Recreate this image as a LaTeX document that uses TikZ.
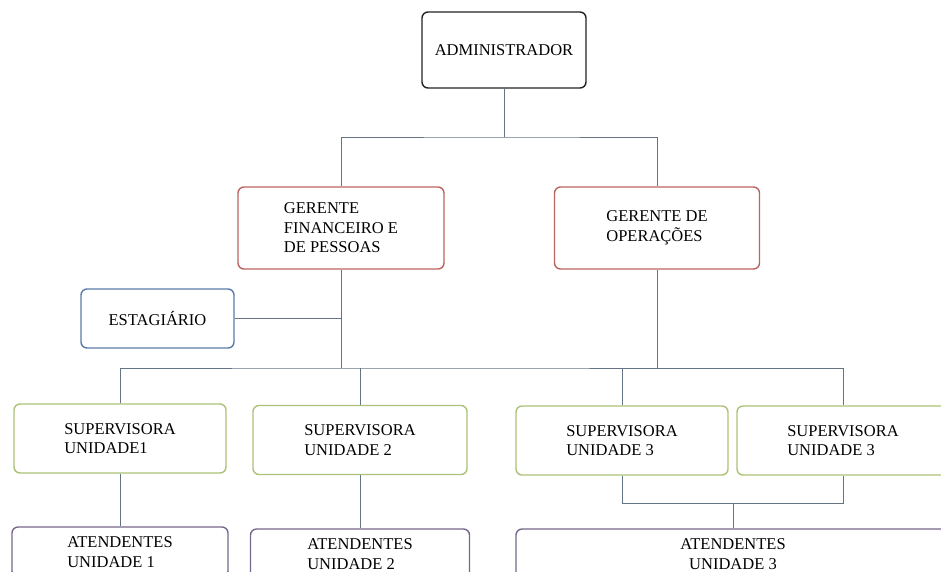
\documentclass[tikz,border=0pt]{standalone}
\usepackage{fontspec}
\setmainfont{Liberation Serif}
\definecolor{admcol}{RGB}{35,35,35}
\definecolor{gercol}{RGB}{188,100,96}
\definecolor{estcol}{RGB}{88,125,168}
\definecolor{supcol}{RGB}{172,194,118}
\definecolor{atecol}{RGB}{118,104,140}
\definecolor{concol}{RGB}{100,116,132}
\begin{document}
\begin{tikzpicture}[x=1pt, y=-1pt,
    box/.style={draw, rounded corners=6pt, line width=1.4pt, fill=white,
                font=\fontsize{16.5}{19.5}\selectfont, inner sep=0pt, align=left},
    conn/.style={draw=concol, line width=0.9pt}]
    \useasboundingbox (0,0) rectangle (941,571);
    \clip (0,0) rectangle (941,571);
    % top level
    \node[box, draw=admcol, minimum width=164, minimum height=76] (admin) at (504,50) {ADMINISTRADOR};
    \node[box, draw=gercol, minimum width=206, minimum height=82] (gf) at (341,228) {GERENTE\\FINANCEIRO E\\DE PESSOAS};
    \node[box, draw=gercol, minimum width=205, minimum height=82] (go) at (657,228) {GERENTE DE\\OPERA\c{C}\~{O}ES};
    \node[box, draw=estcol, minimum width=153, minimum height=59] (est) at (157.5,318.5) {ESTAGI\'{A}RIO};
    % supervisoras
    \node[box, draw=supcol, minimum width=212, minimum height=69] (s1) at (120,438.5) {SUPERVISORA\\UNIDADE1};
    \node[box, draw=supcol, minimum width=214, minimum height=69] (s2) at (360,440) {SUPERVISORA\\UNIDADE 2};
    \node[box, draw=supcol, minimum width=212, minimum height=69] (s3a) at (622,440.5) {SUPERVISORA\\UNIDADE 3};
    \node[box, draw=supcol, minimum width=212, minimum height=69] (s3b) at (843,440.5) {SUPERVISORA\\UNIDADE 3};
    % atendentes
    \node[box, draw=atecol, minimum width=216, minimum height=50] (a1) at (120,552) {ATENDENTES\\UNIDADE 1};
    \node[box, draw=atecol, minimum width=219, minimum height=50] (a2) at (360,554) {ATENDENTES\\UNIDADE 2};
    \node[box, draw=atecol, minimum width=434, minimum height=50, align=center] (a3) at (733,554) {ATENDENTES\\UNIDADE 3};
    % connectors
    \coordinate (topbar) at (504,137);
    \coordinate (midbar) at (341,368);
    \coordinate (lowbar) at (733,503);
    \draw[conn] (admin.south) -- (topbar);
    \draw[conn] (gf.north) |- (topbar) -| (go.north);
    \draw[conn] (gf.south) -- (midbar);
    \draw[conn] (go.south) -- (go.south |- midbar);
    \draw[conn] (est.east) -- (est.east -| midbar);
    \draw[conn] (s1.north) |- (midbar) -| (s3b.north);
    \draw[conn] (s2.north) -- (s2.north |- midbar);
    \draw[conn] (s3a.north) -- (s3a.north |- midbar);
    \draw[conn] (s1.south) -- (a1.north);
    \draw[conn] (s2.south) -- (a2.north);
    \draw[conn] (s3a.south) |- (lowbar) -| (s3b.south);
    \draw[conn] (lowbar) -- (a3.north);
\end{tikzpicture}
\end{document}
